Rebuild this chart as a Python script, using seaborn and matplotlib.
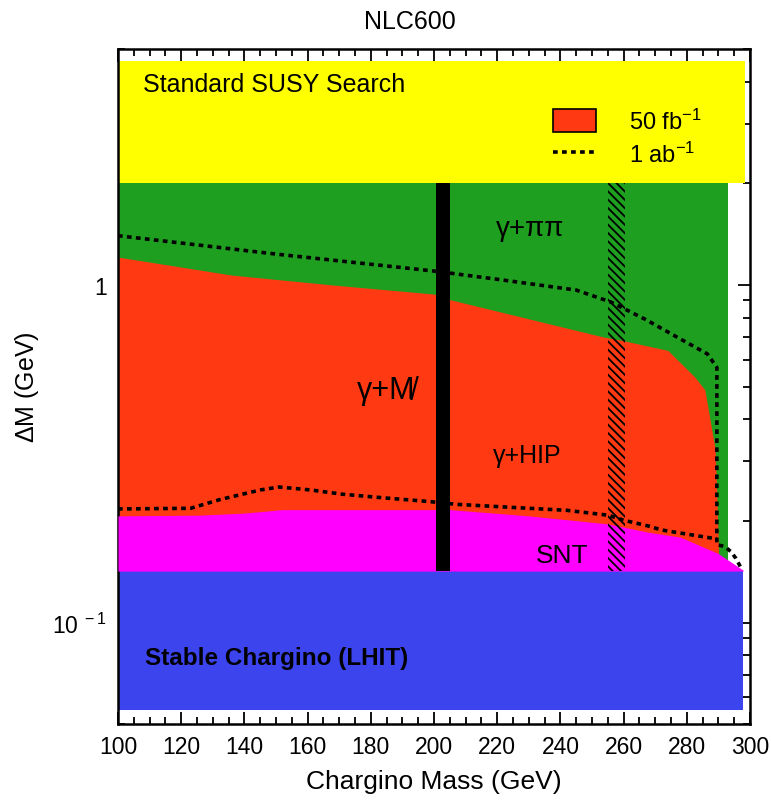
import numpy as np
import pandas as pd
import seaborn as sns
import matplotlib
matplotlib.use("Agg")
import matplotlib.pyplot as plt
from matplotlib.patches import Patch
from matplotlib.lines import Line2D
from matplotlib.ticker import MultipleLocator, LogLocator, FuncFormatter, NullFormatter

sns.set_theme(style="ticks")
plt.rcParams.update({
    'font.family': ['Liberation Sans', 'DejaVu Sans'],
    'mathtext.fontset': 'custom',
    'mathtext.rm': 'Liberation Sans',
    'mathtext.it': 'Liberation Sans:italic',
    'mathtext.bf': 'Liberation Sans:bold',
    'hatch.linewidth': 1.3,
    'text.color': 'black',
    'axes.labelcolor': 'black',
    'xtick.color': 'black',
    'ytick.color': 'black',
})

# region boundaries (chargino mass in GeV, delta M in GeV)
red_x = [100, 136, 168, 200, 205, 254, 259, 274, 282.5, 285.7, 289, 290]
red_top = [1.21, 1.07, 1.00, 0.94, 0.905, 0.70, 0.687, 0.64, 0.534, 0.489, 0.325, 0.168]

snt_x = [100, 126, 140, 152, 205, 230, 255, 268, 278, 290, 297.8]
snt_top = [0.207, 0.208, 0.211, 0.216, 0.216, 0.207, 0.196, 0.185, 0.179, 0.160, 0.143]

stable_x = [100, 297.8]
stable_lo, stable_hi = 0.055, 0.142

pipi_x = [100, 293]
pipi_lo, pipi_hi = 0.15, 2.0

susy_x = [100, 298.4]
susy_lo, susy_hi = 2.0, 4.6

bar_x = [200.5, 205.2]
hatch_x = [255.0, 260.4]

# 1 ab^-1 contour
ab_up_x = [100, 150, 200, 220, 245, 256, 267, 277, 286.5, 289.5, 289.5, 292, 294, 295.5, 297]
ab_up_y = [1.40, 1.235, 1.10, 1.04, 0.966, 0.89, 0.79, 0.70, 0.625, 0.57, 0.17, 0.168, 0.162, 0.155, 0.146]
ab_lo_x = [100, 123, 132, 145, 151, 161, 171, 182, 199, 207, 226, 242, 255, 260, 268, 272, 286, 289.5]
ab_lo_y = [0.217, 0.218, 0.231, 0.247, 0.252, 0.247, 0.240, 0.235, 0.228, 0.224, 0.219, 0.215,
           0.208, 0.201, 0.193, 0.188, 0.179, 0.177]

c_yellow = '#ffff00'
c_green = '#1f9f1f'
c_red = '#ff3a12'
c_mag = '#ff00ff'
c_blue = '#3c44ee'
dots = (0, (1.3, 1.2))

fig = plt.figure(figsize=(7.71, 8.03), dpi=100)
ax = fig.add_axes([0.153, 0.097, 0.8198, 0.8406])

ax.fill_between(stable_x, stable_lo, stable_hi, color=c_blue, lw=0, zorder=1)
ax.fill_between(pipi_x, pipi_lo, pipi_hi, color=c_green, lw=0, zorder=1)
ax.fill_between(red_x, 0.15, red_top, color=c_red, lw=0, zorder=2)
ax.fill_between(snt_x, stable_hi, snt_top, color=c_mag, lw=0, zorder=3)
ax.fill_between(susy_x, susy_lo, susy_hi, color=c_yellow, lw=0, zorder=1)

ax.fill_between(bar_x, stable_hi, pipi_hi, color='black', lw=0, zorder=4)
ax.fill_between(hatch_x, stable_hi, pipi_hi, facecolor='none', edgecolor='black',
                hatch='\\\\\\\\', lw=0, zorder=4)

up = pd.DataFrame({'m': ab_up_x, 'dm': ab_up_y})
lo = pd.DataFrame({'m': ab_lo_x, 'dm': ab_lo_y})
for d in (up, lo):
    sns.lineplot(data=d, x='m', y='dm', sort=False, estimator=None, ax=ax,
                 color='black', lw=2.6, linestyle=dots, zorder=5)

ax.set_yscale('log')
ax.set_xlim(100, 300)
ax.set_ylim(0.05, 5.0)

ax.xaxis.set_major_locator(MultipleLocator(20))
ax.xaxis.set_minor_locator(MultipleLocator(5))
ax.yaxis.set_major_locator(LogLocator(base=10))
ax.yaxis.set_minor_locator(LogLocator(base=10, subs=np.arange(2, 10)))
ax.yaxis.set_major_formatter(FuncFormatter(lambda v, p: '1' if abs(v - 1) < 1e-9 else r'10$^{\ -1}$'))
ax.yaxis.set_minor_formatter(NullFormatter())

ax.tick_params(which='both', direction='in', top=True, right=True, width=1.3, colors='black')
ax.tick_params(which='major', length=9, labelsize=16.5, pad=8)
ax.tick_params(which='minor', length=5)
for s in ax.spines.values():
    s.set_linewidth(1.8)
    s.set_color('black')

ax.set_xlabel('Chargino Mass (GeV)', fontsize=19, labelpad=8)
ax.set_ylabel(r'$\Delta$M (GeV)', fontsize=18, labelpad=8)
fig.text(0.532, 0.972, 'NLC600', fontsize=18, ha='center', va='center')

ax.text(107.9, 3.94, 'Standard SUSY Search', fontsize=18, va='center', zorder=6)
ax.text(230.4, 1.48, 'γ+ππ', fontsize=20, ha='center', va='center', zorder=6)
ax.text(185, 0.49, 'γ+M\u0338', fontsize=22, ha='center', va='center', zorder=6)
ax.text(229.5, 0.313, 'γ+HIP', fontsize=18, ha='center', va='center', zorder=6)
ax.text(240.5, 0.158, 'SNT', fontsize=19, ha='center', va='center', zorder=6)
ax.text(108.5, 0.079, 'Stable Chargino (LHIT)', fontsize=17.5, fontweight='bold',
        va='center', zorder=6)

handles = [
    Patch(facecolor=c_red, edgecolor='black', lw=1.2, label=r'50 fb$^{-1}$'),
    Line2D([0], [0], color='black', lw=2.6, linestyle=dots, label=r'1 ab$^{-1}$'),
]
ax.legend(handles=handles, loc='upper left', bbox_to_anchor=(0.689, 0.912), frameon=False,
          fontsize=17, handlelength=1.8, handleheight=1.1, handletextpad=1.4,
          labelspacing=0.35, borderpad=0, borderaxespad=0)

fig.savefig('out.png', dpi=100)
